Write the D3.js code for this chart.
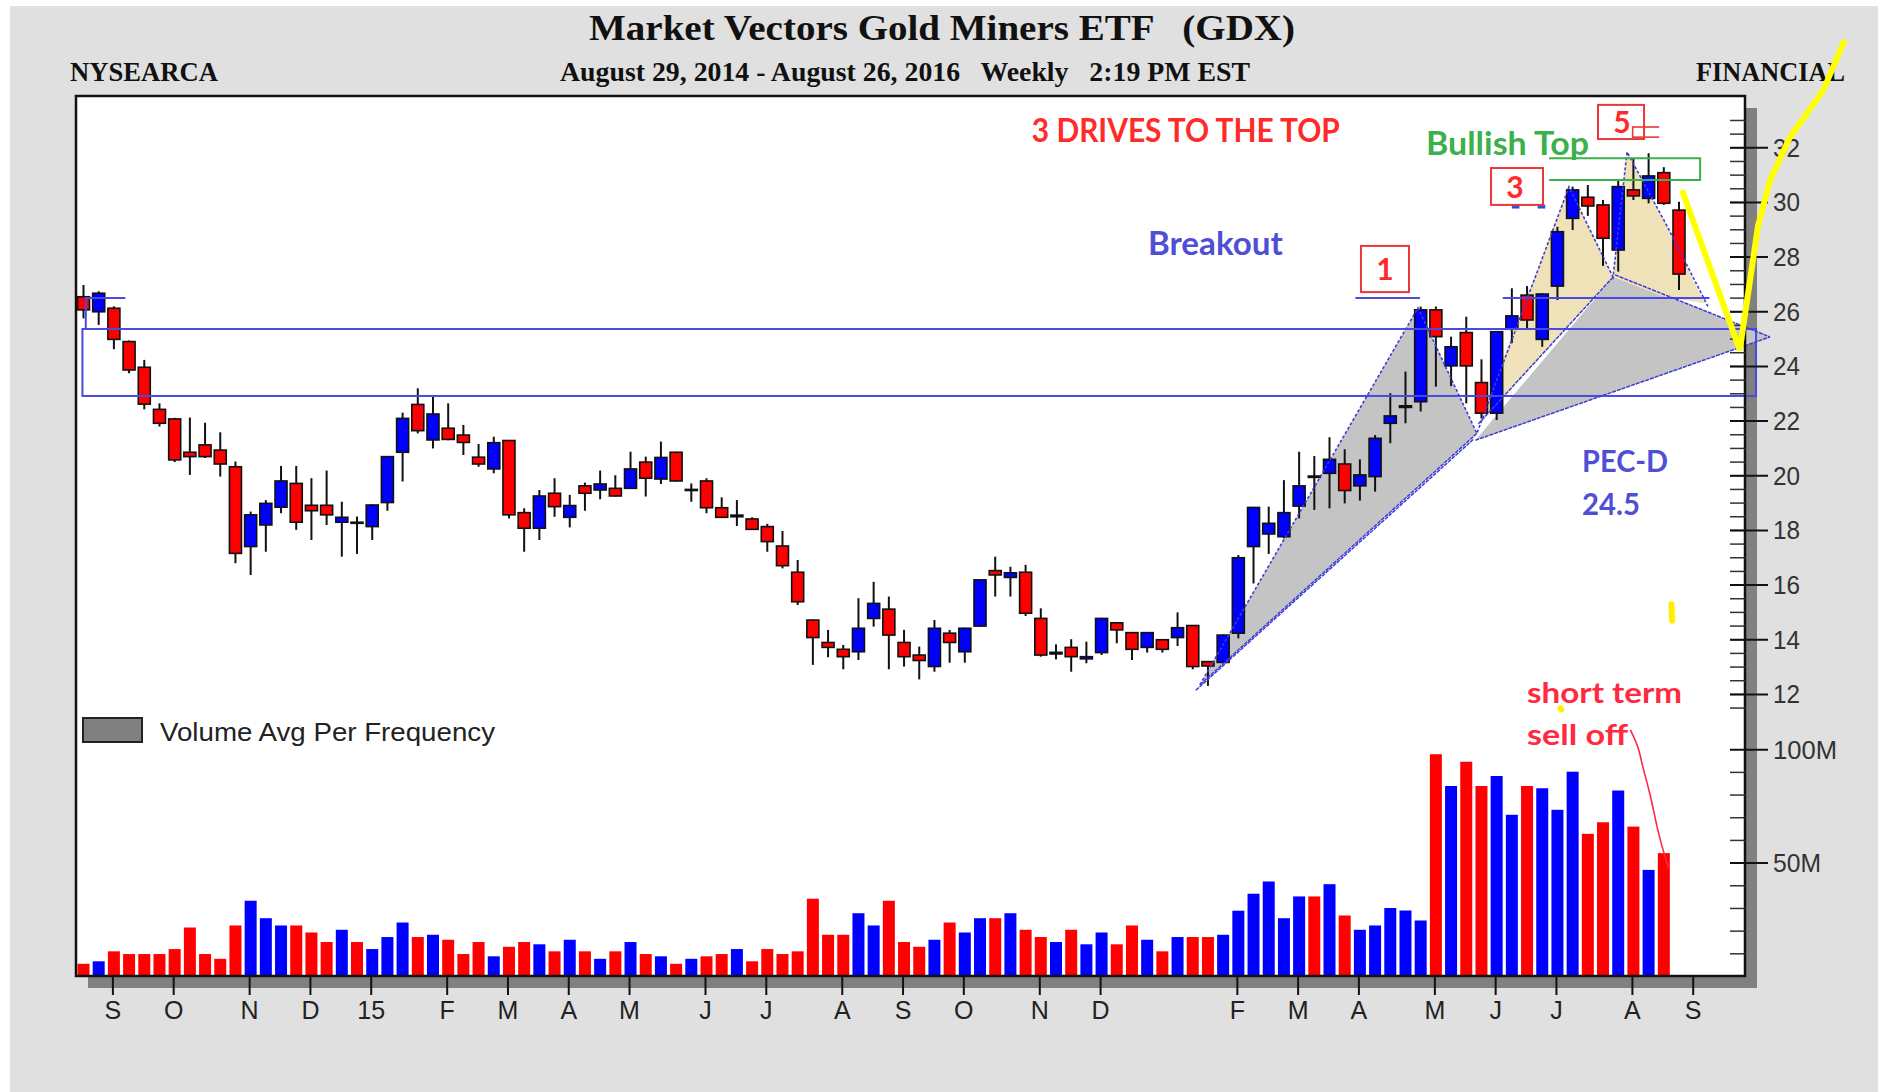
<!DOCTYPE html>
<html><head><meta charset="utf-8">
<script src="https://cdn.jsdelivr.net/npm/d3@7"></script>
<style>html,body{margin:0;padding:0;background:#fff;}svg{display:block}</style>
</head><body>
<svg id="chart" width="1884" height="1092"></svg>
<script>
// ---------- DATA (weekly, week ending Aug 22 2014 .. Aug 26 2016) ----------
const opens = [26.55,26.00,26.13,24.91,23.97,22.43,22.08,20.86,21.13,20.94,20.33,17.41,18.20,18.85,19.72,18.92,18.92,18.30,18.30,18.14,
19.02,20.86,22.61,21.31,21.74,21.49,20.68,20.25,21.29,18.65,18.08,19.36,18.48,19.63,19.48,19.54,19.54,20.50,19.88,20.86,
19.46,19.81,18.83,18.50,18.42,18.14,17.43,16.47,14.72,13.90,13.65,13.56,14.78,15.12,13.90,13.44,13.02,14.24,13.56,14.50,
16.53,16.28,16.47,14.78,13.48,13.72,13.30,13.53,14.62,14.26,13.72,14.00,14.08,14.52,13.20,13.17,14.24,17.41,17.87,17.77,
18.89,19.99,20.09,20.43,19.63,19.97,21.92,22.50,22.71,26.07,24.02,25.24,23.41,22.29,25.36,26.61,24.99,26.94,29.42,30.19,
29.91,28.26,30.46,30.15,31.09,29.72];
const highs = [26.98,26.75,26.20,24.95,24.24,22.65,22.12,22.13,21.94,21.59,20.52,18.69,19.11,20.36,20.36,19.91,20.19,19.05,18.51,18.95,
20.72,22.31,23.20,22.89,22.65,21.86,21.16,21.43,21.31,18.81,19.48,19.91,19.30,19.75,20.19,20.02,20.88,20.70,21.25,20.88,
19.72,19.91,19.21,19.11,18.48,18.24,17.98,16.92,14.74,14.36,13.81,15.52,16.12,15.58,14.36,13.75,14.72,14.36,14.44,16.21,
17.04,16.67,16.74,15.15,13.83,14.02,13.93,14.80,14.64,14.28,14.28,14.02,15.00,14.54,13.22,14.19,17.10,18.86,18.87,19.84,
20.88,20.72,21.41,20.97,20.60,21.49,23.02,23.81,26.19,26.19,25.09,25.82,24.26,25.29,26.86,26.94,26.67,29.11,30.58,30.64,
30.09,30.82,31.62,31.80,31.29,30.03];
const lows = [25.76,25.52,24.63,23.75,22.43,21.80,20.50,20.03,20.65,19.97,16.80,16.37,17.22,18.63,18.02,17.65,18.20,17.04,17.14,17.65,
18.72,19.79,21.55,21.00,21.30,20.76,20.33,20.09,18.44,17.22,17.65,18.50,18.11,18.72,19.14,19.24,19.52,19.24,19.70,19.79,
19.05,18.63,18.46,18.16,18.02,17.22,16.61,15.27,13.08,13.36,12.92,13.26,14.48,12.92,13.02,12.55,12.83,13.16,13.16,14.48,
15.58,15.58,14.87,13.38,13.28,12.83,13.14,13.44,13.87,13.26,13.53,13.53,13.77,12.92,12.31,13.15,14.05,16.06,17.14,17.71,
18.44,18.75,18.81,18.99,19.09,19.42,21.19,21.92,22.35,23.26,23.28,22.65,22.10,22.04,24.85,25.39,24.72,26.43,28.99,29.51,
27.68,27.47,30.09,29.97,29.91,26.80];
const closes = [26.07,26.68,24.99,23.87,22.62,21.92,20.58,20.70,20.70,20.43,17.16,18.57,18.99,19.81,18.30,18.72,18.57,18.48,18.26,18.93,
20.70,22.10,21.65,22.26,21.33,21.22,20.43,21.21,18.57,18.08,19.26,18.87,18.91,19.36,19.70,19.26,20.25,19.91,20.67,19.81,
19.50,18.83,18.48,18.56,18.04,17.59,16.71,15.39,14.08,13.72,13.38,14.42,15.33,14.17,13.38,13.24,14.42,13.90,14.42,16.19,
16.37,16.45,14.97,13.44,13.54,13.38,13.38,14.78,14.36,13.65,14.26,13.65,14.44,13.02,13.04,14.17,17.00,18.84,18.26,18.65,
19.63,19.94,20.60,19.46,20.03,21.37,22.19,22.56,26.07,25.09,24.72,24.02,22.29,25.27,25.85,25.70,26.65,28.93,30.46,29.87,
28.69,30.58,30.24,30.97,29.97,27.38];
// weekly volume in millions (last week has no bar)
const volumes = [5.6,6.7,11.1,9.9,9.9,9.9,12.1,21.6,9.9,7.8,22.5,33.4,25.7,22.5,22.5,19.4,15.2,20.6,15.2,12.1,
17.4,23.8,17.4,18.4,16.2,9.9,15.2,8.9,13.1,15.2,14.2,11.1,16.2,11.1,7.8,11.1,15.2,9.9,8.9,5.6,
7.8,8.9,9.9,12.1,6.7,12.1,9.9,11.1,34.3,18.4,18.4,27.9,22.5,33.4,15.2,13.1,16.2,23.8,19.4,25.7,
25.7,27.9,20.6,17.4,15.2,20.6,14.2,19.4,14.2,22.5,16.2,11.1,17.4,17.4,17.4,18.4,29.0,36.5,41.9,25.7,
35.3,35.3,40.7,26.9,20.6,22.5,30.2,29.1,24.7,98.0,84.0,94.7,84.0,88.4,71.3,84.0,83.0,73.5,90.3,62.9,
68.0,82.0,66.1,47.0,54.4];
const monthTickIdx = [2,6,11,15,19,24,28,32,36,41,45,50,54,58,63,67,76,80,84,89,93,97,102,106];
const monthTickLabels = ["S","O","N","D","15","F","M","A","M","J","J","A","S","O","N","D","F","M","A","M","J","J","A","S"];
const priceTicks = [12,14,16,18,20,22,24,26,28,30,32];
const priceMinorTicks = d3.range(11.5, 33.01, 0.5);
const volumeTicks = [50,100];
const volumeTickLabels = ["50M","100M"];
const volumeMinorTicks = [10,20,30,40,60,70,80,90];

// ---------- ANNOTATION DATA (candle index, price) ----------
const zoneBox = {i0:-0.07, i1:110.07, pHi:25.37, pLo:22.92};
const bracketLine = [[0.15,25.37],[0.15,26.5],[2.75,26.5]];
const levelLines = [[[83.7,26.5],[87.95,26.5]],[[93.4,26.5],[107.0,26.5]]];
const grayTri1 = [[73.47,12.35],[87.82,26.14],[91.7,21.55]];
const grayWedge = [[91.6,21.3],[100.79,27.35],[110.99,25.08]];
const tanTri1 = [[91.8,21.9],[97.76,30.57],[100.66,27.27]];
const tanTri2 = [[100.66,27.27],[101.58,31.85],[104.21,29.14],[106.7,26.3],[104.0,26.55]];
const zigzag = [[73.47,12.35],[87.82,26.14],[91.7,21.55],[97.76,30.57],[100.66,27.27],[101.58,31.85],[104.21,29.14],[106.9,26.2]];
const edgeLines = [[[73.47,12.35],[91.7,21.55]],[[91.8,21.9],[100.66,27.27]],[[91.6,21.3],[110.99,25.08]],[[100.79,27.35],[110.99,25.08]],[[73.2,12.15],[91.5,21.35]]];
const numberBoxes = [
  {label:"1", i0:84.07, i1:87.23, pHi:28.41, pLo:26.72, ti:85.65, tp:27.16},
  {label:"3", i0:92.63, i1:96.05, pHi:31.26, pLo:29.91, ti:94.21, tp:30.16},
  {label:"5", i0:99.67, i1:102.70, pHi:33.57, pLo:32.32, ti:101.25, tp:32.54}
];
const fiveMarks = [[[101.9,32.76],[103.7,32.76]],[[101.9,32.39],[103.7,32.39]],[[101.95,32.76],[101.95,32.39]]];
const threeMarks = [[[94.0,29.85],[94.5,29.85]],[[95.7,29.85],[96.2,29.85]]];
const greenBox = {i0:96.45, i1:106.39, pHi:31.62, pLo:30.82};
const yellowPath = [[105.2,30.45],[109.0,24.6],[110.2,29.14],[111.0,30.82],[112.3,32.39],[114.5,34.11],[115.9,35.94]];
const yellowSpecks = [[[104.5,15.3],[104.55,14.7]],[[97.2,11.5],[97.25,11.45]]];
const sellOffLine = [[101.8,108.7],[102.3,101],[102.6,93],[103.1,80],[103.7,62],[104.3,48]];
const notes = [
  {t:"3 DRIVES TO THE TOP", i:62.41, p:32.21, c:"#ff2a2a", s:32, w:308},
  {t:"Breakout", i:70.05, p:28.08, c:"#4f4fd6", s:32, w:135},
  {t:"Bullish Top", i:88.35, p:31.73, c:"#3cb04a", s:32, w:163},
  {t:"PEC-D", i:98.62, p:20.13, c:"#4f4fd6", s:31, w:86},
  {t:"24.5", i:98.62, p:18.56, c:"#4f4fd6", s:31, w:58},
  {t:"short term", i:95.0, p:11.69, c:"#ff2a40", s:28, w:155},
  {t:"sell off", i:95.0, p:10.15, c:"#ff2a40", s:28, w:101}
];

// ---------- LAYOUT ----------
const L = 76, R = 1745, T = 96, B = 976;
const svg = d3.select("#chart");
const x = d3.scaleLinear().domain([0, 105]).range([83.5, 1679]);
const y = d3.scaleLinear().domain([12, 32]).range([694.4, 147.8]);
const yv = d3.scaleLinear().domain([0, 100]).range([976.5, 749.7]);
const BLUE = "#0000ff", RED = "#ff0000", ANN = "#4a4ae0";

svg.append("rect").attr("x",0).attr("y",0).attr("width",1884).attr("height",1092).attr("fill","#ffffff");
svg.append("rect").attr("x",10).attr("y",6).attr("width",1868).attr("height",1086).attr("fill","#e0e0e0");
// shadow + plot
svg.append("rect").attr("x",L+12).attr("y",T+12).attr("width",R-L).attr("height",B-T).attr("fill","#808080");
svg.append("rect").attr("x",L).attr("y",T).attr("width",R-L).attr("height",B-T).attr("fill","#ffffff");

// titles
const serif = "'Liberation Serif','Times New Roman',serif";
function ttext(str, x0, yb, size, w) {
  svg.append("text").attr("x",x0).attr("y",yb).attr("font-family",serif).attr("font-weight","bold")
    .attr("font-size",size).attr("fill","#111").style("white-space","pre")
    .attr("textLength",w).attr("lengthAdjust","spacingAndGlyphs").text(str);
}
ttext("Market Vectors Gold Miners ETF   (GDX)", 589, 40, 36, 706);
ttext("NYSEARCA", 70, 81, 27, 148);
ttext("August 29, 2014 - August 26, 2016   Weekly   2:19 PM EST", 560, 81, 27, 690);
ttext("FINANCIAL", 1696, 81, 27, 149);

const line = d3.line().x(d => x(d[0])).y(d => y(d[1]));
const ann = svg.append("g");
// shaded patterns
[grayTri1, grayWedge].forEach(p => ann.append("path").attr("d", line(p) + "Z").attr("fill","#c4c4c4"));
[tanTri1, tanTri2].forEach(p => ann.append("path").attr("d", line(p) + "Z").attr("fill","#f0e2b8"));

// volume bars
const vw = 12;
svg.append("g").selectAll("rect").data(volumes).join("rect")
  .attr("x",(d,i)=>x(i)-vw/2).attr("width",vw)
  .attr("y",d=>yv(d)).attr("height",d=>yv(0)-yv(d))
  .attr("fill",(d,i)=> closes[i] >= opens[i] ? BLUE : RED);

// candles
const cw = 12;
const cg = svg.append("g");
opens.forEach((o,i) => {
  const c = closes[i];
  const g = cg.append("g");
  g.append("line").attr("x1",x(i)).attr("x2",x(i)).attr("y1",y(highs[i])).attr("y2",y(lows[i]))
    .attr("stroke","#111").attr("stroke-width",2);
  const top = y(Math.max(o,c)), bot = y(Math.min(o,c));
  g.append("rect").attr("x",x(i)-cw/2).attr("width",cw).attr("y",top).attr("height",Math.max(1,bot-top))
    .attr("fill", c >= o ? BLUE : RED).attr("stroke","#111").attr("stroke-width",1.6);
});

// annotation lines
const al = svg.append("g");
al.append("rect").attr("x",x(zoneBox.i0)).attr("y",y(zoneBox.pHi)).attr("width",x(zoneBox.i1)-x(zoneBox.i0))
  .attr("height",y(zoneBox.pLo)-y(zoneBox.pHi)).attr("fill","none").attr("stroke",ANN).attr("stroke-width",2);
al.append("path").attr("d",line(bracketLine)).attr("fill","none").attr("stroke",ANN).attr("stroke-width",2);
levelLines.forEach(l => al.append("path").attr("d",line(l)).attr("fill","none").attr("stroke",ANN).attr("stroke-width",2));
threeMarks.forEach(l => al.append("path").attr("d",line(l)).attr("fill","none").attr("stroke","#2f4fe0").attr("stroke-width",4));
al.append("path").attr("d",line(zigzag)).attr("fill","none").attr("stroke","#3c3cd8").attr("stroke-width",1.6).attr("stroke-dasharray","3,2");
edgeLines.forEach(l => al.append("path").attr("d",line(l)).attr("fill","none").attr("stroke","#3c3cd8").attr("stroke-width",1.5).attr("stroke-dasharray","4,1"));

// green bullish top box
al.append("path").attr("d", line([[greenBox.i0,greenBox.pHi],[greenBox.i1,greenBox.pHi],[greenBox.i1,greenBox.pLo],[greenBox.i0,greenBox.pLo]]))
  .attr("fill","none").attr("stroke","#3cb04a").attr("stroke-width",2);

// numbered boxes
const sans2 = "Lato,'Open Sans','Noto Sans',sans-serif";
numberBoxes.forEach(b => {
  al.append("rect").attr("x",x(b.i0)).attr("y",y(b.pHi)).attr("width",x(b.i1)-x(b.i0)).attr("height",y(b.pLo)-y(b.pHi))
    .attr("fill","none").attr("stroke","#e83838").attr("stroke-width",2);
  al.append("text").attr("x",x(b.ti)).attr("y",y(b.tp)).attr("text-anchor","middle").attr("font-family",sans2)
    .attr("font-weight","bold").attr("font-size",30).attr("fill","#ff2a2a").text(b.label);
});
fiveMarks.forEach(l => al.append("path").attr("d",line(l)).attr("fill","none").attr("stroke","#e83838").attr("stroke-width",1.6));

// notes
notes.forEach(n => al.append("text").attr("x",x(n.i)).attr("y",y(n.p)).attr("font-family",sans2).attr("font-weight","bold")
  .attr("font-size",n.s).attr("fill",n.c).attr("textLength",n.w).attr("lengthAdjust","spacingAndGlyphs").text(n.t));

// sell-off pointer (in volume panel)
al.append("path").attr("d", d3.line().x(d=>x(d[0])).y(d=>yv(d[1])).curve(d3.curveCatmullRom)(sellOffLine))
  .attr("fill","none").attr("stroke","#ff2a40").attr("stroke-width",1.6);

// frame
svg.append("rect").attr("x",L).attr("y",T).attr("width",R-L).attr("height",B-T).attr("fill","none").attr("stroke","#111").attr("stroke-width",2.5);

// legend
svg.append("rect").attr("x",83).attr("y",718).attr("width",59).attr("height",24).attr("fill","#808080").attr("stroke","#222").attr("stroke-width",2);
const sans = "'Liberation Sans',Arial,sans-serif";
svg.append("text").attr("x",160).attr("y",741).attr("font-family",sans).attr("font-size",26).attr("fill","#222")
  .attr("textLength",335).attr("lengthAdjust","spacingAndGlyphs").text("Volume Avg Per Frequency");

// right axes
const ax = svg.append("g");
priceMinorTicks.forEach(p => ax.append("line").attr("x1",1730).attr("x2",R).attr("y1",y(p)).attr("y2",y(p)).attr("stroke","#333").attr("stroke-width",1.5));
volumeMinorTicks.forEach(v => ax.append("line").attr("x1",1730).attr("x2",R).attr("y1",yv(v)).attr("y2",yv(v)).attr("stroke","#333").attr("stroke-width",1.5));
priceTicks.forEach(p => {
  ax.append("line").attr("x1",1730).attr("x2",1768).attr("y1",y(p)).attr("y2",y(p)).attr("stroke","#111").attr("stroke-width",2);
  ax.append("text").attr("x",1773).attr("y",y(p)+9).attr("font-family",sans).attr("font-size",26).attr("fill","#333")
    .attr("textLength",27).attr("lengthAdjust","spacingAndGlyphs").text(p);
});
volumeTicks.forEach((v,k) => {
  ax.append("line").attr("x1",1730).attr("x2",1768).attr("y1",yv(v)).attr("y2",yv(v)).attr("stroke","#111").attr("stroke-width",2);
  ax.append("text").attr("x",1773).attr("y",yv(v)+9).attr("font-family",sans).attr("font-size",26).attr("fill","#333")
    .attr("textLength", volumeTickLabels[k].length*16).attr("lengthAdjust","spacingAndGlyphs").text(volumeTickLabels[k]);
});
// bottom month axis
monthTickIdx.forEach((m,k) => {
  ax.append("line").attr("x1",x(m)-1).attr("x2",x(m)-1).attr("y1",B).attr("y2",995).attr("stroke","#111").attr("stroke-width",2);
  ax.append("text").attr("x",x(m)-1).attr("y",1019).attr("text-anchor","middle").attr("font-family",sans)
    .attr("font-size",25).attr("fill","#222").text(monthTickLabels[k]);
});

// yellow projection
svg.append("path").attr("d",line(yellowPath)).attr("fill","none").attr("stroke","#ffff00").attr("stroke-width",6).attr("stroke-linejoin","miter");
yellowSpecks.forEach(l => svg.append("path").attr("d",line(l)).attr("fill","none").attr("stroke","#ffee00").attr("stroke-width",6).attr("stroke-linecap","round"));
</script>
</body></html>
